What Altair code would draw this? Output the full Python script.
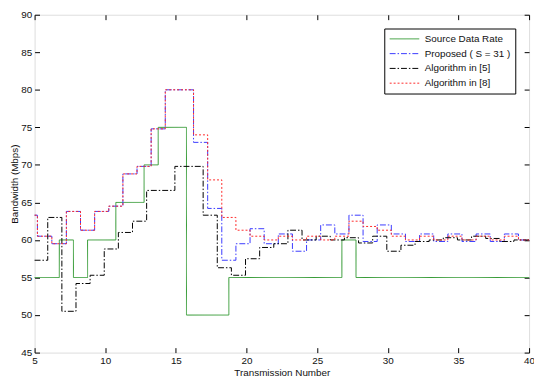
import altair as alt
import pandas as pd

series_names = ["Source Data Rate", "Proposed ( S = 31 )", "Algorithm in [5]", "Algorithm in [8]"]
series_colors = ["#339933", "#3a3aff", "#000000", "#ff2a2a"]
series_dashes = [[1, 0], [6, 2, 1.5, 2], [6, 2, 1.5, 2], [2, 2]]

source_x = [5, 6.75, 7.75, 8.75, 10.75, 12.75, 13.75, 15.75, 18.75, 26.75, 27.75, 40]
source_y = [55, 60, 55, 60, 65, 70, 75, 50, 55, 60, 55, 55]

rb_x = [5, 5.2, 6.22, 7.25, 8.25, 9.25, 10.25, 11.25, 12.25, 13.25, 14.25,
        16.25, 17.25, 18.25, 19.25, 20.25, 21.25, 22.25, 23.25, 24.25, 25.25,
        26.25, 27.25, 28.25, 29.25, 30.25, 31.25, 32.25, 33.25, 34.25, 35.25,
        36.25, 37.25, 38.25, 39.25, 40]
proposed_y = [63.3, 60.5, 59.5, 63.8, 61.3, 63.8, 64.5, 68.8, 69.8, 74.8, 80.0,
              73.0, 64.2, 57.3, 59.5, 61.5, 59.5, 60.8, 58.5, 60.0, 62.0,
              60.8, 63.3, 59.8, 62.0, 60.8, 59.8, 60.8, 59.8, 60.8, 59.8,
              60.8, 59.8, 60.8, 60.0, 60.0]
alg8_y = [63.3, 60.5, 59.5, 63.8, 61.3, 63.8, 64.5, 68.8, 69.8, 74.8, 80.0,
          74.0, 68.0, 63.0, 61.3, 60.5, 60.0, 60.5, 60.0, 60.5, 60.0,
          60.5, 62.5, 61.8, 61.3, 60.5, 60.0, 60.5, 60.0, 60.5, 60.0,
          60.5, 60.0, 60.5, 60.0, 60.0]

alg5_x = [5, 5.93, 6.93, 7.93, 8.93, 9.93, 10.93, 11.93, 12.93, 14.93,
          16.93, 17.93, 18.93, 19.93, 20.93, 21.93, 22.93, 23.93, 24.93, 25.93,
          26.93, 27.93, 28.93, 29.93, 30.93, 31.93, 32.93, 33.93, 34.93, 35.93,
          36.93, 37.93, 38.93, 40]
alg5_y = [57.3, 63.0, 50.5, 54.2, 55.3, 58.8, 61.0, 62.5, 66.6, 69.8,
          63.3, 56.3, 55.3, 57.5, 59.0, 59.5, 61.3, 60.0, 60.5, 60.0,
          60.3, 59.6, 60.5, 58.5, 59.3, 59.8, 60.0, 60.3, 60.0, 60.5,
          60.2, 59.8, 60.0, 60.0]

x_ticks = [5, 10, 15, 20, 25, 30, 35, 40]
y_ticks = [45, 50, 55, 60, 65, 70, 75, 80, 85, 90]

rows = []
for name, xs, ys in [(series_names[0], source_x, source_y),
                     (series_names[1], rb_x, proposed_y),
                     (series_names[2], alg5_x, alg5_y),
                     (series_names[3], rb_x, alg8_y)]:
    for i, (xv, yv) in enumerate(zip(xs, ys)):
        rows.append({"series": name, "x": xv, "y": yv, "i": i})
df = pd.DataFrame(rows)

FONT = "Liberation Sans"

xscale = alt.Scale(domain=[5, 40], nice=False, zero=False)
yscale = alt.Scale(domain=[45, 90], nice=False, zero=False)


def make_legend():
    return alt.Legend(title=None, orient="none", legendX=355, legendY=14,
                      strokeColor="#000", fillColor="#fff", padding=5,
                      labelFont=FONT, labelFontSize=10, labelColor="#111",
                      symbolType="M-1,0H5", symbolSize=100, symbolStrokeWidth=1,
                      rowPadding=4, labelOffset=25, cornerRadius=0)


lines = alt.Chart(df).mark_line(interpolate="step-after", strokeWidth=1).encode(
    x=alt.X("x:Q", scale=xscale,
            axis=alt.Axis(values=x_ticks, title="Transmission Number", grid=False,
                          domain=False, offset=-5, tickSize=5, tickColor="#000",
                          labelPadding=3, titlePadding=2, labelFont=FONT, titleFont=FONT,
                          labelFontSize=10, titleFontSize=10, titleFontWeight="normal",
                          labelColor="#111", titleColor="#111", labelFlush=False)),
    y=alt.Y("y:Q", scale=yscale,
            axis=alt.Axis(values=y_ticks, title="Bandwidth (Mbps)", grid=False,
                          domain=False, offset=-5, tickSize=5, tickColor="#000",
                          labelPadding=3, titlePadding=1, labelFont=FONT, titleFont=FONT,
                          labelFontSize=10, titleFontSize=10, titleFontWeight="normal",
                          labelColor="#111", titleColor="#111", labelFlush=False)),
    color=alt.Color("series:N", scale=alt.Scale(domain=series_names, range=series_colors),
                    legend=make_legend()),
    strokeDash=alt.StrokeDash("series:N", scale=alt.Scale(domain=series_names, range=series_dashes),
                              legend=make_legend()),
    order="i:Q",
)

frame = alt.Chart(df).mark_line(opacity=0).encode(
    x=alt.X("x:Q", scale=xscale,
            axis=alt.Axis(values=x_ticks, orient="top", labels=False, title=None, grid=False,
                          domain=False, offset=-5, tickSize=5, tickColor="#000")),
    y=alt.Y("y:Q", scale=yscale,
            axis=alt.Axis(values=y_ticks, orient="right", labels=False, title=None, grid=False,
                          domain=False, offset=-5, tickSize=5, tickColor="#000")),
    detail="series:N",
)

chart = alt.layer(lines, frame).resolve_axis(x="independent", y="independent").properties(
    width=502, height=343,
    autosize=alt.AutoSizeParams(type="none"),
    padding={"left": 27, "top": 4, "right": 5, "bottom": 25},
).configure_view(stroke="#000", strokeWidth=1).configure(background="#fff")

chart.save("out.html", embed_options={"renderer": "svg", "actions": False})
